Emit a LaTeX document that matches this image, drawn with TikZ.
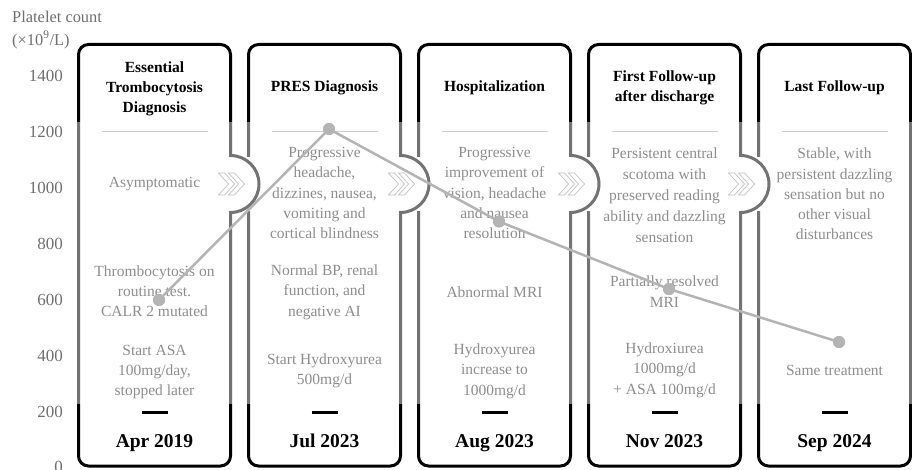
\documentclass[tikz,border=0pt]{standalone}
\usepackage{fontspec}
\setmainfont{Liberation Serif}
\usetikzlibrary{calc}
\definecolor{bodygray}{HTML}{8E8E8E}
\definecolor{axisgray}{HTML}{6E6E6E}
\definecolor{plotgray}{HTML}{B4B4B4}
\definecolor{sepgray}{HTML}{CCCCCC}
\definecolor{chevgray}{HTML}{C2C2C2}
\begin{document}
\begin{tikzpicture}[x=1pt,y=-1pt,
  card/.style={draw=black, line width=3pt, fill=white, rounded corners=10pt,
    minimum width=152pt, minimum height=421.5pt, inner sep=0pt},
  titletext/.style={font=\fontsize{15.5}{20}\selectfont\bfseries, align=center, text=black, inner sep=0pt},
  bodytext/.style={font=\fontsize{15.5}{20.3}\selectfont, align=center, text=bodygray, inner sep=0pt},
  datetext/.style={font=\fontsize{19.5}{22}\selectfont\bfseries, text=black, inner sep=0pt, anchor=base},
  ticktext/.style={font=\fontsize{17}{20}\selectfont, text=axisgray, anchor=east, inner sep=0pt},
  axistext/.style={font=\fontsize{16.4}{20}\selectfont, text=axisgray, anchor=west, inner sep=0pt},
  dot/.style={circle, fill=plotgray, minimum size=12pt, inner sep=0pt},
  plotline/.style={draw=plotgray, line width=2.5pt},
  sepline/.style={draw=sepgray, line width=0.8pt},
  dashline/.style={draw=black, line width=3pt},
  chevron/.style={draw=chevgray, fill=white, line width=0.7pt, line join=miter},
  bumparc/.style={draw=black, line width=3pt}
]
\useasboundingbox (0,0) rectangle (912,470);

% axis labels
\node[axistext] (ylab1) at (12,17) {Platelet count};
\node[axistext] (ylab2) at (12,40) {(×10\textsuperscript{9}/L)};
\foreach \v/\yy in {1400/76,1200/132,1000/188,800/244,600/300,400/356,200/412,0/467}{
  \node[ticktext] (tick\v) at (63,\yy) {\v};
}

% cards
\foreach \i in {1,...,5}{
  \pgfmathsetmacro{\cx}{154.5+170*(\i-1)}
  \node[card] (c\i) at (\cx,255.25) {};
}

% bumps
\foreach \i in {1,...,4}{
  \pgfmathsetmacro{\ex}{230.5+170*(\i-1)}
  \fill[white] (\ex-3,157) rectangle (\ex+20,211);
  \fill[white] (\ex,157) arc[start angle=90,end angle=-90,radius=27pt] -- cycle;
  \draw[bumparc] (\ex,155.5) arc[start angle=90,end angle=-90,radius=28.5pt];
}

% translucent band
\fill[white, opacity=0.45] (70,122) rectangle (912,404);

% chevrons
\foreach \i in {1,...,4}{
  \pgfmathsetmacro{\ex}{230.5+170*(\i-1)}
  \foreach \dx in {-12,-2}{
    \draw[chevron] (\ex+\dx,173) -- (\ex+\dx+6,173) -- (\ex+\dx+16,184) -- (\ex+\dx+6,195)
      -- (\ex+\dx,195) -- (\ex+\dx+10,184) -- cycle;
  }
}

% separators, dashes
\foreach \i in {1,...,5}{
  \pgfmathsetmacro{\cx}{154.5+170*(\i-1)}
  \draw[sepline] (\cx-53,131) -- (\cx+53,131);
  \draw[dashline] (\cx-13,412) -- (\cx+13,412);
}

% titles
\node[titletext] (t1) at (154.5,89) {Essential\\Trombocytosis\\Diagnosis};
\node[titletext] (t2) at (324.5,88) {PRES Diagnosis};
\node[titletext] (t3) at (494.5,88) {Hospitalization};
\node[titletext] (t4) at (664.5,88) {First Follow-up\\after discharge};
\node[titletext] (t5) at (834.5,88) {Last Follow-up};

% body texts
\node[bodytext] (b11) at (154.5,184) {Asymptomatic};
\node[bodytext] (b12) at (154.5,291) {Thrombocytosis on\\routine test.\\CALR 2 mutated};
\node[bodytext] (b13) at (154.5,372) {Start ASA\\100mg/day,\\stopped later};

\node[bodytext] (b21) at (324.5,193) {Progressive\\headache,\\dizzines, nausea,\\vomiting and\\cortical blindness};
\node[bodytext] (b22) at (324.5,292) {Normal BP, renal\\function, and\\negative AI};
\node[bodytext] (b23) at (324.5,371) {Start Hydroxyurea\\500mg/d};

\node[bodytext] (b31) at (494.5,193) {Progressive\\improvement of\\vision, headache\\and nausea\\resolution};
\node[bodytext] (b32) at (494.5,292) {Abnormal MRI};
\node[bodytext] (b33) at (494.5,371) {Hydroxyurea\\increase to\\1000mg/d};

\node[bodytext, font=\fontsize{15.5}{21}\selectfont] (b41) at (664.5,195) {Persistent central\\scotoma with\\preserved reading\\ability and dazzling\\sensation};
\node[bodytext] (b42) at (664.5,291.5) {Partially resolved\\MRI};
\node[bodytext] (b43) at (664.5,370) {Hydroxiurea\\1000mg/d\\+ ASA 100mg/d};

\node[bodytext] (b51) at (834.5,194) {Stable, with\\persistent dazzling\\sensation but no\\other visual\\disturbances};
\node[bodytext] (b52) at (834.5,370) {Same treatment};

% dates
\node[datetext] (d1) at (154.5,447) {Apr 2019};
\node[datetext] (d2) at (324.5,447) {Jul 2023};
\node[datetext] (d3) at (494.5,447) {Aug 2023};
\node[datetext] (d4) at (664.5,447) {Nov 2023};
\node[datetext] (d5) at (834.5,447) {Sep 2024};

% platelet plot
\node[dot] (p1) at (159,300) {};
\node[dot] (p2) at (329,129) {};
\node[dot] (p3) at (499,221.5) {};
\node[dot] (p4) at (669,289) {};
\node[dot] (p5) at (839,342) {};
\draw[plotline] (p1.center) -- (p2.center) -- (p3.center) -- (p4.center) -- (p5.center);
\foreach \k in {1,...,5}{ \fill[plotgray] (p\k) circle[radius=6pt]; }
\end{tikzpicture}
\end{document}
